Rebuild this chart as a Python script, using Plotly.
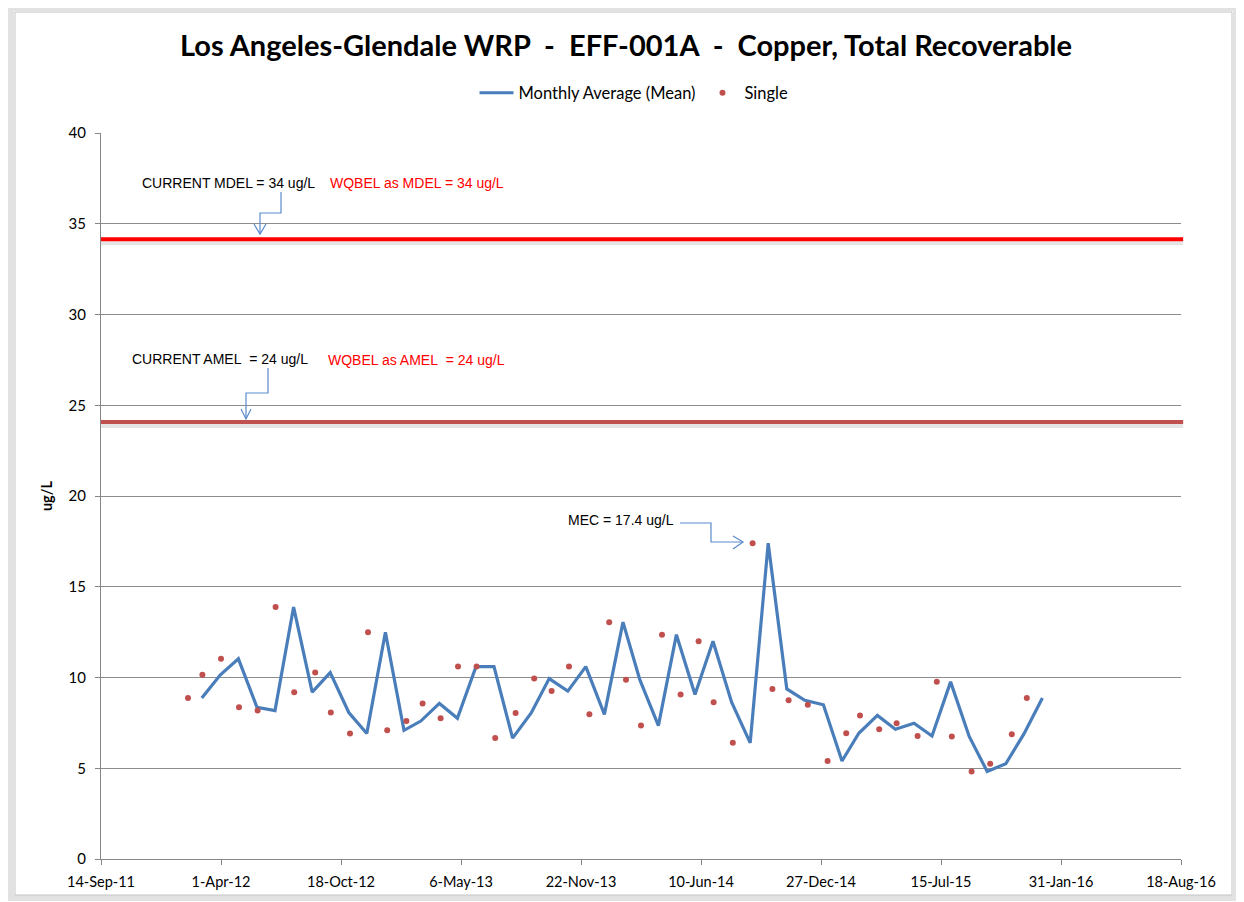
import plotly.graph_objects as go

# ---------------- data ----------------
title_text = "Los Angeles-Glendale WRP  -  EFF-001A  -  Copper, Total Recoverable"

# Monthly average (mean) plotted at month end, Feb-2012 .. Dec-2015
month_end_dates = [
    "2012-02-29", "2012-03-31", "2012-04-30", "2012-05-31", "2012-06-30", "2012-07-31",
    "2012-08-31", "2012-09-30", "2012-10-31", "2012-11-30", "2012-12-31",
    "2013-01-31", "2013-02-28", "2013-03-31", "2013-04-30", "2013-05-31", "2013-06-30",
    "2013-07-31", "2013-08-31", "2013-09-30", "2013-10-31", "2013-11-30", "2013-12-31",
    "2014-01-31", "2014-02-28", "2014-03-31", "2014-04-30", "2014-05-31", "2014-06-30",
    "2014-07-31", "2014-08-31", "2014-09-30", "2014-10-31", "2014-11-30", "2014-12-31",
    "2015-01-31", "2015-02-28", "2015-03-31", "2015-04-30", "2015-05-31", "2015-06-30",
    "2015-07-31", "2015-08-31", "2015-09-30", "2015-10-31", "2015-11-30", "2015-12-31",
]
monthly_mean = [
    8.87, 10.15, 11.03, 8.36, 8.18, 13.88, 9.19, 10.27, 8.07, 6.91, 12.49,
    7.09, 7.60, 8.57, 7.75, 10.6, 10.6, 6.66, 8.05, 9.94, 9.25, 10.6, 7.97,
    13.05, 9.88, 7.35, 12.36, 9.06, 12.0, 8.64, 6.40, 17.4, 9.37, 8.74, 8.50,
    5.40, 6.93, 7.91, 7.15, 7.48, 6.78, 9.76, 6.75, 4.82, 5.25, 6.88, 8.87,
]

# Single samples plotted at sample date
sample_dates = [
    "2012-02-06", "2012-03-01", "2012-04-01", "2012-05-01", "2012-06-01", "2012-07-01",
    "2012-08-01", "2012-09-05", "2012-10-01", "2012-11-02", "2012-12-02",
    "2013-01-03", "2013-02-04", "2013-03-03", "2013-04-02", "2013-05-01", "2013-06-01",
    "2013-07-02", "2013-08-05", "2013-09-05", "2013-10-04", "2013-11-02", "2013-12-06",
    "2014-01-08", "2014-02-05", "2014-03-02", "2014-04-06", "2014-05-07", "2014-06-06",
    "2014-07-01", "2014-08-02", "2014-09-04", "2014-10-07", "2014-11-03", "2014-12-05",
    "2015-01-07", "2015-02-07", "2015-03-02", "2015-04-03", "2015-05-02", "2015-06-06",
    "2015-07-08", "2015-08-02", "2015-09-04", "2015-10-05", "2015-11-10", "2015-12-05",
]
single_values = [
    8.87, 10.15, 11.03, 8.36, 8.18, 13.88, 9.19, 10.27, 8.07, 6.91, 12.49,
    7.09, 7.60, 8.57, 7.75, 10.6, 10.6, 6.66, 8.05, 9.94, 9.25, 10.6, 7.97,
    13.05, 9.88, 7.35, 12.36, 9.06, 12.0, 8.64, 6.40, 17.4, 9.37, 8.74, 8.50,
    5.40, 6.93, 7.91, 7.15, 7.48, 6.78, 9.76, 6.75, 4.82, 5.25, 6.88, 8.87,
]

# Limit lines (as drawn)
limit_values = [34.15, 24.08]
limit_colors = ["#FF0000", "#C0504D"]

x_tick_vals = ["2011-09-14", "2012-04-01", "2012-10-18", "2013-05-06", "2013-11-22",
               "2014-06-10", "2014-12-27", "2015-07-15", "2016-01-31", "2016-08-18"]
x_tick_text = ["14-Sep-11", "1-Apr-12", "18-Oct-12", "6-May-13", "22-Nov-13",
               "10-Jun-14", "27-Dec-14", "15-Jul-15", "31-Jan-16", "18-Aug-16"]
y_tick_vals = [0, 5, 10, 15, 20, 25, 30, 35, 40]

# ---------------- layout helpers ----------------
OFF = 8                      # page body margin
W, H = 1244 - OFF, 902 - OFF
L, R, T, B = 101, 1181, 133, 859   # plot area in screen pixels


def px(x, y):
    return (x - L) / (R - L), (B - y) / (B - T)


def path(points):
    s = ""
    for i, (x, y) in enumerate(points):
        a, b = px(x, y)
        s += ("M" if i == 0 else "L") + f"{a:.5f},{b:.5f} "
    return s.strip()


FONT = "Lato, Carlito, Calibri"

fig = go.Figure()

fig.add_trace(go.Scatter(
    x=month_end_dates, y=monthly_mean, mode="lines",
    name="Monthly Average (Mean)",
    line=dict(color="#4A7EBB", width=3.2),
))
fig.add_trace(go.Scatter(
    x=sample_dates, y=single_values, mode="markers",
    name="Single",
    marker=dict(color="#C0504D", size=6),
))

shapes = []
# limit lines with soft shadow
for v, c in zip(limit_values, limit_colors):
    shapes.append(dict(type="line", xref="paper", yref="y", x0=0, x1=1.002,
                       y0=v - 0.22, y1=v - 0.22, layer="above",
                       line=dict(color="rgba(0,0,0,0.10)", width=4)))
    shapes.append(dict(type="line", xref="paper", yref="y", x0=0, x1=1.002,
                       y0=v, y1=v, layer="above",
                       line=dict(color=c, width=4)))

arrow_col = "#5B8ACB"
connectors = [
    [(281, 192), (281, 213), (260, 213), (260, 234)],
    [(254, 224), (260, 234), (266, 224)],
    [(268, 368), (268, 393), (246, 393), (246, 419)],
    [(241, 409), (246, 419), (251, 409)],
    [(680, 523), (711, 523), (711, 542), (743, 542)],
    [(733, 536), (743, 542), (733, 549)],
]
for pts in connectors:
    shapes.append(dict(type="path", xref="paper", yref="paper", path=path(pts),
                       line=dict(color=arrow_col, width=1.2)))

# outer frame of the chart
fx0, fy0 = px(11, 8)
fx1, fy1 = px(1236, 898)
shapes.append(dict(type="rect", xref="paper", yref="paper", x0=fx0, y0=fy0, x1=fx1, y1=fy1,
                   line=dict(color="#E2E2E2", width=6), layer="below"))
gx0, gy0 = px(15, 12)
gx1, gy1 = px(1232, 895)
shapes.append(dict(type="rect", xref="paper", yref="paper", x0=gx0, y0=gy0, x1=gx1, y1=gy1,
                   line=dict(color="#C4C4C4", width=1), layer="below"))

annotations = []
texts = [
    ("CURRENT MDEL = 34 ug/L", 140, 183, "#000000"),
    ("WQBEL as MDEL = 34 ug/L", 328, 183, "#FF0000"),
    ("CURRENT AMEL\u00a0 = 24 ug/L", 130, 359, "#000000"),
    ("WQBEL as AMEL\u00a0 = 24 ug/L", 326, 360, "#FF0000"),
    ("MEC = 17.4 ug/L", 566, 520, "#000000"),
]
for t, x, y, c in texts:
    a, b = px(x, y)
    annotations.append(dict(text=t, x=a, y=b, xref="paper", yref="paper",
                            xanchor="left", yanchor="middle", showarrow=False,
                            font=dict(family="Liberation Sans, Arial", size=14, color=c)))

fig.update_layout(
    width=W, height=H, autosize=False,
    margin=dict(l=L - OFF, r=1244 - R, t=T - OFF, b=902 - B, pad=0),
    paper_bgcolor="white", plot_bgcolor="white",
    title=dict(text=title_text.replace("  ", "\u00a0 "), x=(626 - OFF) / W, xanchor="center",
               y=1 - (46 - OFF) / H, yanchor="middle",
               font=dict(family=FONT, size=29, color="#000000", weight="bold")),
    legend=dict(orientation="h", x=(618 - OFF) / W, xanchor="center", y=1 - (93 - OFF) / H,
                yref="container", yanchor="middle",
                font=dict(family=FONT, size=16.5, color="#000000"),
                itemwidth=34, tracegroupgap=0),
    showlegend=True,
    xaxis=dict(type="date", range=[x_tick_vals[0], x_tick_vals[-1]],
               tickmode="array", tickvals=x_tick_vals, ticktext=x_tick_text,
               showgrid=False, showline=True, linecolor="#868686", linewidth=1,
               ticks="outside", ticklen=5, tickcolor="#868686",
               ticklabelstandoff=5,
               tickfont=dict(family=FONT, size=14.5, color="#000000"),
               zeroline=False),
    yaxis=dict(range=[0, 40], tickmode="array", tickvals=y_tick_vals,
               showgrid=True, gridcolor="#8C8C8C", gridwidth=1,
               showline=True, linecolor="#868686", linewidth=1,
               ticks="outside", ticklen=5, tickcolor="#868686",
               ticklabelstandoff=6,
               tickfont=dict(family=FONT, size=15, color="#000000"),
               zeroline=False,
               title=dict(text="<b>ug/L</b>", standoff=12,
                          font=dict(family=FONT, size=14.5, color="#000000"))),
    shapes=shapes,
    annotations=annotations,
)

fig.write_html("out.html")
